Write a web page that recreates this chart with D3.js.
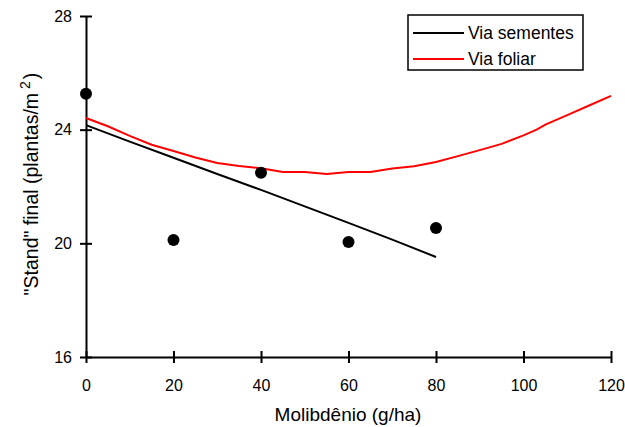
<!DOCTYPE html>
<html><head><meta charset="utf-8">
<script src="https://cdn.jsdelivr.net/npm/d3@7"></script>
<style>body{margin:0;background:#fff}svg{display:block}text{font-family:"Liberation Sans",Arial,sans-serif;fill:#000}</style>
</head><body>
<svg id="c" width="625" height="427"></svg>
<script>
const xTicks = [0, 20, 40, 60, 80, 100, 120];
const yTicks = [16, 20, 24, 28];
const pointX = [0, 20, 40, 60, 80];
const pointY = [25.26, 20.12, 22.48, 20.05, 20.54];
const semX = [0, 10, 20, 30, 40, 50, 60, 70, 80];
const semY = [24.16, 23.58, 23.01, 22.44, 21.88, 21.3, 20.72, 20.13, 19.52];
const folX = [0, 5, 10, 15, 20, 25, 30, 35, 40, 45, 50, 55, 60, 65, 70, 75, 80, 85, 90, 95, 100, 103, 105, 110, 115, 120];
const folY = [24.41, 24.12, 23.78, 23.47, 23.25, 23.02, 22.83, 22.72, 22.64, 22.51, 22.51, 22.44, 22.51, 22.51, 22.63, 22.71, 22.86, 23.07, 23.28, 23.5, 23.8, 24.0, 24.18, 24.51, 24.85, 25.19];
const legendLabels = ["Via sementes", "Via foliar"];
const legendColors = ["#000000", "#ff0000"];

const svg = d3.select("#c");
const x = d3.scaleLinear().domain([0, 120]).range([86, 611]);
const y = d3.scaleLinear().domain([16, 28]).range([357, 16]);

const xAxis = svg.append("g").attr("transform", `translate(0,${y(16)})`)
  .call(d3.axisBottom(x).tickValues(xTicks).tickSize(6).tickSizeOuter(0).tickPadding(17));
xAxis.select(".domain").attr("stroke", "#000").attr("stroke-width", 2);
xAxis.selectAll(".tick line").attr("stroke", "#000").attr("stroke-width", 2).attr("y1", -6).attr("y2", 6);
xAxis.selectAll(".tick text").attr("font-size", 16).attr("font-family", "Liberation Sans, Arial, sans-serif").attr("fill", "#000");

const yAxis = svg.append("g").attr("transform", `translate(${x(0)},0)`)
  .call(d3.axisLeft(y).tickValues(yTicks).tickSize(6).tickSizeOuter(0).tickPadding(8));
yAxis.select(".domain").attr("stroke", "#000").attr("stroke-width", 2);
yAxis.selectAll(".tick line").attr("stroke", "#000").attr("stroke-width", 2).attr("x1", -6).attr("x2", 6);
yAxis.selectAll(".tick text").attr("font-size", 16).attr("font-family", "Liberation Sans, Arial, sans-serif").attr("fill", "#000");

const line = d3.line().x(d => x(d[0])).y(d => y(d[1]));
svg.append("path").datum(semX.map((v, i) => [v, semY[i]]))
  .attr("d", line).attr("fill", "none").attr("stroke", legendColors[0]).attr("stroke-width", 2);
svg.append("path").datum(folX.map((v, i) => [v, folY[i]]))
  .attr("d", line).attr("fill", "none").attr("stroke", legendColors[1]).attr("stroke-width", 2);

svg.selectAll("circle.pt").data(pointX.map((v, i) => [v, pointY[i]])).enter()
  .append("circle").attr("cx", d => x(d[0])).attr("cy", d => y(d[1])).attr("r", 6).attr("fill", "#000");

const lg = svg.append("g");
lg.append("rect").attr("x", 408).attr("y", 15).attr("width", 175).attr("height", 55)
  .attr("fill", "#fff").attr("stroke", "#000").attr("stroke-width", 1.5);
legendLabels.forEach((t, i) => {
  const yy = 33 + i * 26;
  lg.append("line").attr("x1", 413).attr("x2", 464).attr("y1", yy).attr("y2", yy)
    .attr("stroke", legendColors[i]).attr("stroke-width", 2);
  lg.append("text").attr("x", 468).attr("y", yy).attr("dy", "0.35em").attr("font-size", 17.5).text(t);
});

svg.append("text").attr("x", 348).attr("y", 421).attr("text-anchor", "middle").attr("font-size", 19).text("Molibdênio (g/ha)");
const yt = svg.append("text").attr("transform", "translate(38,184) rotate(-90)").attr("text-anchor", "middle").attr("font-size", 19.5);
yt.append("tspan").text("\"Stand\" final (plantas/m");
yt.append("tspan").attr("dx", 4).attr("dy", -8).attr("font-size", 14).text("2");
yt.append("tspan").attr("dx", 2).attr("dy", 8).text(")");
</script>
</body></html>
